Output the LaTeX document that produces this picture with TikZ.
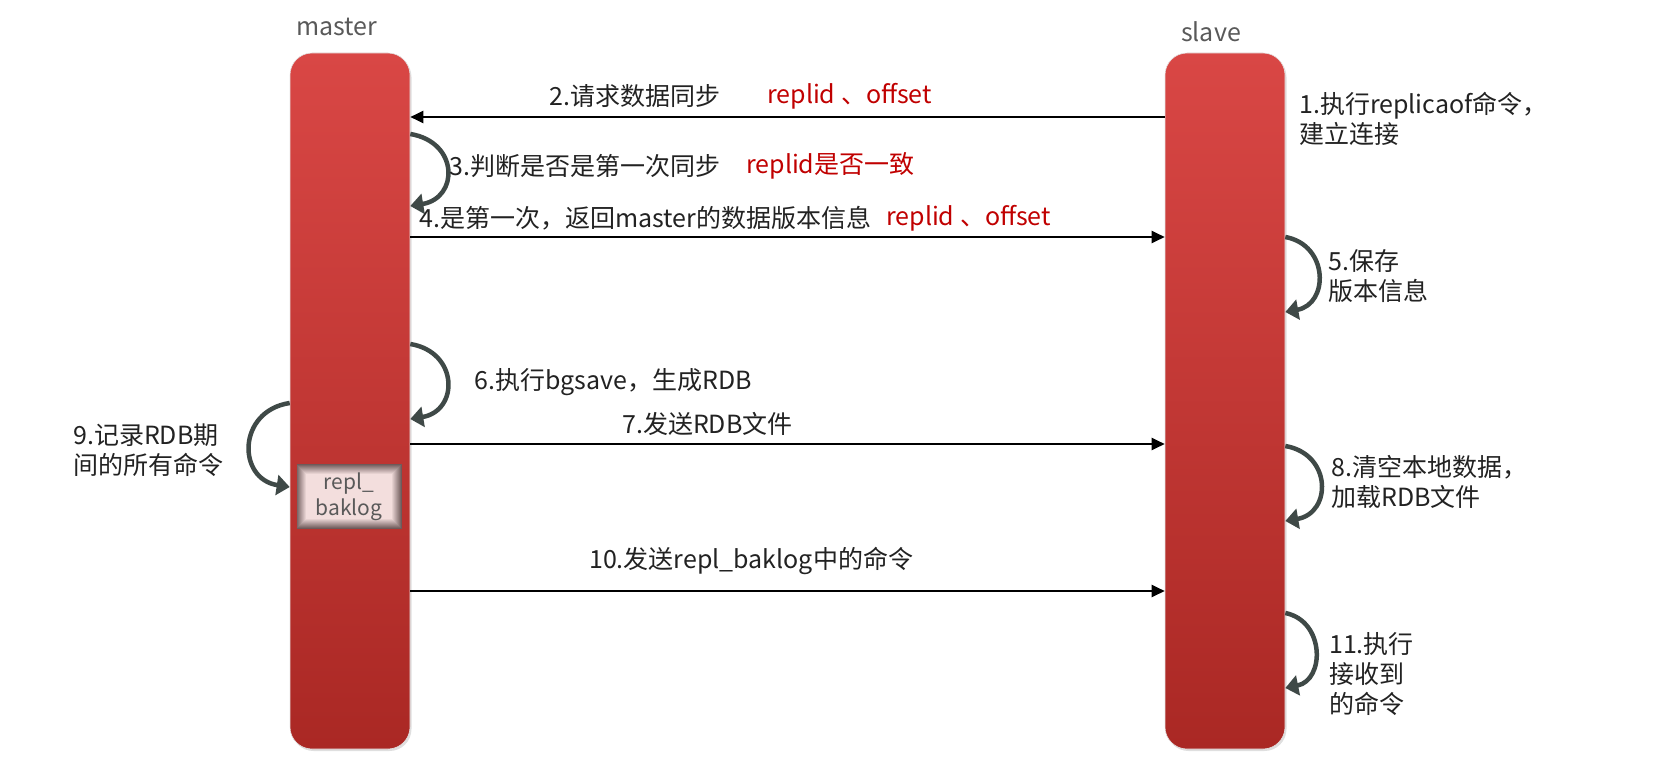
\documentclass[tikz,border=0pt]{standalone}
\usepackage{fontspec}
\setmainfont{Noto Sans CJK SC}
\usetikzlibrary{arrows.meta,shadows,calc}
\definecolor{bartop}{HTML}{D94745}
\definecolor{barbot}{HTML}{AA2824}
\definecolor{txt}{HTML}{222222}
\definecolor{redtxt}{HTML}{C00000}
\definecolor{lbl}{HTML}{595959}
\definecolor{curvecol}{HTML}{3F4947}
\definecolor{boxedge}{HTML}{6E5A5A}
\definecolor{boxin}{HTML}{F3DEDD}
\tikzset{
 bar/.style={rectangle, rounded corners=22pt, minimum width=120pt, minimum height=696pt,
   top color=bartop, bottom color=barbot, draw=black!10, line width=0.6pt, inner sep=0pt,
   drop shadow={shadow xshift=1.5pt, shadow yshift=-2pt, opacity=0.25}},
 msg/.style={draw=black, line width=2pt, -{Triangle[length=13pt,width=12pt]}},
 selfarrow/.style={draw=curvecol, line width=4.5pt, -{Triangle[length=13pt,width=20pt]}},
 bodytext/.style={font=\fontsize{25}{30}\selectfont, text=txt, inner sep=0pt, anchor=west, align=left},
 redtext/.style={font=\fontsize{25}{30}\selectfont, text=redtxt, inner sep=0pt, anchor=west},
 lbltext/.style={font=\fontsize{25}{30}\selectfont, text=lbl, inner sep=0pt},
}
\begin{document}
\begin{tikzpicture}[x=1pt,y=-1pt]
\useasboundingbox (0,0) rectangle (1677,768);
% bars
\node[bar] (master) at (350,401) {};
\node[bar] (slave) at (1225,401) {};
\node[lbltext] (mlabel) at (337,27) {master};
\node[lbltext] (slabel) at (1211,32) {slave};

% repl_baklog box
\node[rectangle, minimum width=105pt, minimum height=65pt, fill=boxedge, inner sep=0pt] (box) at (349,496.5) {};
\foreach \i in {1,...,10}{
  \pgfmathtruncatemacro{\p}{10*\i}
  \fill[boxin!\p!boxedge] ($(box.south west)+(\i,-\i)$) rectangle ($(box.north east)+(-\i,\i)$);
}
\node[font=\fontsize{21}{26}\selectfont, text=lbl, align=center, inner sep=0pt] (boxtext) at (box.center) {repl\_\\baklog};

% straight messages
\draw[msg] (slave.west |- 0,117) -- (master.east |- 0,117);
\draw[msg] (master.east |- 0,237) -- (slave.west |- 0,237);
\draw[msg] (master.east |- 0,444) -- (slave.west |- 0,444);
\draw[msg] (master.east |- 0,591) -- (slave.west |- 0,591);

% self arrows
\draw[selfarrow] (master.east |- 0,134) .. controls (459,142) and (459,198) .. (master.east |- 0,206);
\draw[selfarrow] (master.east |- 0,344) .. controls (459,352) and (459,411) .. (master.east |- 0,419);
\draw[selfarrow] (master.west |- 0,403) .. controls (237,411) and (237,479) .. (master.west |- 0,487);
\draw[selfarrow] (slave.east |- 0,237) .. controls (1329,245) and (1329,304) .. (slave.east |- 0,312);
\draw[selfarrow] (slave.east |- 0,446) .. controls (1332,454) and (1332,513) .. (slave.east |- 0,521);
\draw[selfarrow] (slave.east |- 0,613) .. controls (1325,621) and (1325,680) .. (slave.east |- 0,688);

% texts
\node[bodytext] (t1) at (1299,119) {1.执行replicaof命令，\\建立连接};
\node[bodytext] (t2) at (549,96) {2.请求数据同步};
\node[redtext] (r2) at (767,96) {replid 、offset};
\node[bodytext] (t3) at (449,166) {3.判断是否是第一次同步};
\node[redtext] (r3) at (746,166) {replid是否一致};
\node[bodytext] (t4) at (419,218) {4.是第一次，返回master的数据版本信息};
\node[redtext] (r4) at (886,218) {replid 、offset};
\node[bodytext] (t5) at (1328,276) {5.保存\\版本信息};
\node[bodytext] (t6) at (474,382) {6.执行bgsave，生成RDB};
\node[bodytext] (t7) at (622,424) {7.发送RDB文件};
\node[bodytext] (t8) at (1331,482) {8.清空本地数据，\\加载RDB文件};
\node[bodytext] (t9) at (73,450) {9.记录RDB期\\间的所有命令};
\node[bodytext] (t10) at (589,561) {10.发送repl\_baklog中的命令};
\node[bodytext] (t11) at (1329,674) {11.执行\\接收到\\的命令};
\end{tikzpicture}
\end{document}
